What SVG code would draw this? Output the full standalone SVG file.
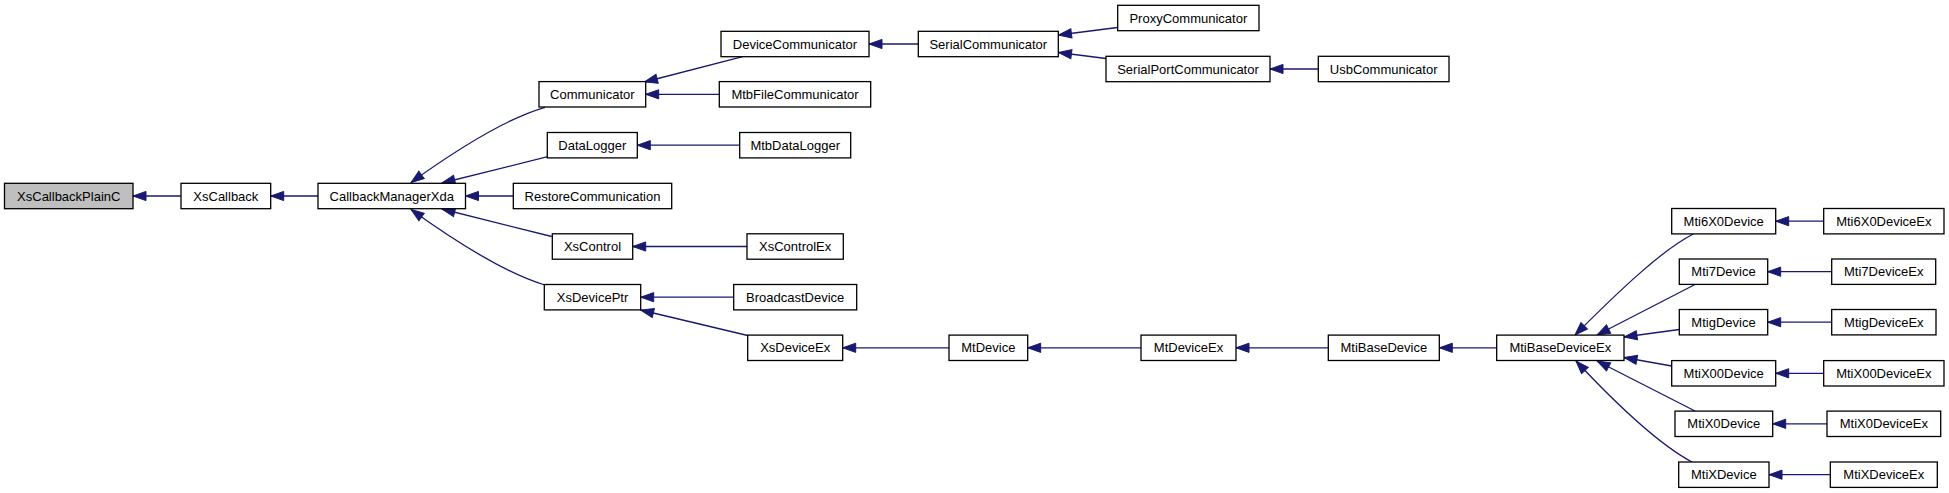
<svg xmlns="http://www.w3.org/2000/svg" width="1949" height="493" viewBox="0 0 1949 493">
<style>
.n rect{fill:#fff;stroke:#000;stroke-width:1.3}
.n.hl rect{fill:#bfbfbf}
.n text{font-family:"Liberation Sans",Arial,sans-serif;font-size:13px;text-anchor:middle;fill:#000}
.e path{fill:none;stroke:#191970;stroke-width:1.3;marker-end:url(#arr)}
</style>
<defs>
<marker id="arr" markerUnits="userSpaceOnUse" markerWidth="16" markerHeight="12" refX="13.5" refY="5" orient="auto" overflow="visible">
<path d="M0.5,0.4 L13.5,5 L0.5,9.6 z" fill="#191970" stroke="#191970" stroke-width="1"/>
</marker>
</defs>
<g id="edges" class="e">
<path d="M181,196 H133"/>
<path d="M318,196 H270.7"/>
<path d="M513.3,196 H465.5"/>
<path d="M545,107.3 C515,116 470,140 411,182.5"/>
<path d="M547.7,156.7 L442,183"/>
<path d="M551.7,236.5 L442,209"/>
<path d="M545,285 C515,276 470,252 411,209.5"/>
<path d="M742.7,56.7 L644.5,82"/>
<path d="M719.3,94.3 H645.7"/>
<path d="M739.7,145.2 H637.3"/>
<path d="M747,246.5 H632.7"/>
<path d="M733.7,297.2 H640.7"/>
<path d="M747.7,335.5 L640.7,310"/>
<path d="M918.3,44 H869"/>
<path d="M949,347.8 H842.7"/>
<path d="M1117.5,27.5 L1058.5,35"/>
<path d="M1106,58.5 L1058.5,52.5"/>
<path d="M1141,347.8 H1027.7"/>
<path d="M1318.3,69 H1270"/>
<path d="M1328.3,347.8 H1236"/>
<path d="M1496.7,347.8 H1439.3"/>
<path d="M1693.3,234 C1662,250 1620,290 1575,335"/>
<path d="M1695,284.5 L1597,335"/>
<path d="M1679.3,329.5 L1624,337"/>
<path d="M1671.7,366 L1624,357.5"/>
<path d="M1695,411 L1597,361"/>
<path d="M1692,462 C1662,446 1620,408 1576,361"/>
<path d="M1823.7,221.2 H1775.7"/>
<path d="M1831.7,271.7 H1767.7"/>
<path d="M1831.7,322.2 H1767.7"/>
<path d="M1823.7,373.3 H1775.7"/>
<path d="M1827,423.8 H1772.7"/>
<path d="M1830.3,474.7 H1769"/>
</g>
<g id="XsCallbackPlainC" class="n hl"><rect x="4.5" y="183.3" width="128.5" height="25.4"/><text x="68.75" y="200.6">XsCallbackPlainC</text></g>
<g id="XsCallback" class="n"><rect x="181" y="183.3" width="89.7" height="25.4"/><text x="225.85" y="200.6">XsCallback</text></g>
<g id="CallbackManagerXda" class="n"><rect x="318" y="183.3" width="147.5" height="25.4"/><text x="391.75" y="200.6">CallbackManagerXda</text></g>
<g id="Communicator" class="n"><rect x="539" y="81.6" width="106.7" height="25.4"/><text x="592.35" y="98.9">Communicator</text></g>
<g id="DataLogger" class="n"><rect x="547.3" y="132.5" width="90" height="25.4"/><text x="592.3" y="149.8">DataLogger</text></g>
<g id="RestoreCommunication" class="n"><rect x="513.3" y="183.3" width="158.4" height="25.4"/><text x="592.5" y="200.6">RestoreCommunication</text></g>
<g id="XsControl" class="n"><rect x="552.3" y="233.8" width="80.4" height="25.4"/><text x="592.5" y="251.1">XsControl</text></g>
<g id="XsDevicePtr" class="n"><rect x="544.3" y="284.5" width="96.4" height="25.4"/><text x="592.5" y="301.8">XsDevicePtr</text></g>
<g id="DeviceCommunicator" class="n"><rect x="721" y="31.3" width="148" height="25.4"/><text x="795" y="48.6">DeviceCommunicator</text></g>
<g id="MtbFileCommunicator" class="n"><rect x="719.3" y="81.6" width="151.4" height="25.4"/><text x="795" y="98.9">MtbFileCommunicator</text></g>
<g id="MtbDataLogger" class="n"><rect x="739.7" y="132.5" width="111" height="25.4"/><text x="795.2" y="149.8">MtbDataLogger</text></g>
<g id="XsControlEx" class="n"><rect x="747" y="233.8" width="96.3" height="25.4"/><text x="795.15" y="251.1">XsControlEx</text></g>
<g id="BroadcastDevice" class="n"><rect x="733.7" y="284.5" width="123" height="25.4"/><text x="795.2" y="301.8">BroadcastDevice</text></g>
<g id="XsDeviceEx" class="n"><rect x="747.7" y="335.1" width="95" height="25.4"/><text x="795.2" y="352.4">XsDeviceEx</text></g>
<g id="SerialCommunicator" class="n"><rect x="918.3" y="31.3" width="140" height="25.4"/><text x="988.3" y="48.6">SerialCommunicator</text></g>
<g id="MtDevice" class="n"><rect x="949" y="335.1" width="78.7" height="25.4"/><text x="988.35" y="352.4">MtDevice</text></g>
<g id="ProxyCommunicator" class="n"><rect x="1117.7" y="5.3" width="141.3" height="25.4"/><text x="1188.35" y="22.6">ProxyCommunicator</text></g>
<g id="SerialPortCommunicator" class="n"><rect x="1106" y="56.3" width="164" height="25.4"/><text x="1188" y="73.6">SerialPortCommunicator</text></g>
<g id="MtDeviceEx" class="n"><rect x="1141" y="335.1" width="95" height="25.4"/><text x="1188.5" y="352.4">MtDeviceEx</text></g>
<g id="UsbCommunicator" class="n"><rect x="1318.3" y="56.3" width="130.7" height="25.4"/><text x="1383.65" y="73.6">UsbCommunicator</text></g>
<g id="MtiBaseDevice" class="n"><rect x="1328.3" y="335.1" width="111" height="25.4"/><text x="1383.8" y="352.4">MtiBaseDevice</text></g>
<g id="MtiBaseDeviceEx" class="n"><rect x="1496.7" y="335.1" width="127.3" height="25.4"/><text x="1560.35" y="352.4">MtiBaseDeviceEx</text></g>
<g id="Mti6X0Device" class="n"><rect x="1671.7" y="208.5" width="104" height="25.4"/><text x="1723.7" y="225.8">Mti6X0Device</text></g>
<g id="Mti7Device" class="n"><rect x="1679.3" y="259" width="88.4" height="25.4"/><text x="1723.5" y="276.3">Mti7Device</text></g>
<g id="MtigDevice" class="n"><rect x="1679.3" y="309.5" width="88.4" height="25.4"/><text x="1723.5" y="326.8">MtigDevice</text></g>
<g id="MtiX00Device" class="n"><rect x="1671.7" y="360.6" width="104" height="25.4"/><text x="1723.7" y="377.9">MtiX00Device</text></g>
<g id="MtiX0Device" class="n"><rect x="1675" y="411.1" width="97.7" height="25.4"/><text x="1723.85" y="428.4">MtiX0Device</text></g>
<g id="MtiXDevice" class="n"><rect x="1678.7" y="462" width="90.3" height="25.4"/><text x="1723.85" y="479.3">MtiXDevice</text></g>
<g id="Mti6X0DeviceEx" class="n"><rect x="1823.7" y="208.5" width="120.3" height="25.4"/><text x="1883.85" y="225.8">Mti6X0DeviceEx</text></g>
<g id="Mti7DeviceEx" class="n"><rect x="1831.7" y="259" width="104" height="25.4"/><text x="1883.7" y="276.3">Mti7DeviceEx</text></g>
<g id="MtigDeviceEx" class="n"><rect x="1831.7" y="309.5" width="104.3" height="25.4"/><text x="1883.85" y="326.8">MtigDeviceEx</text></g>
<g id="MtiX00DeviceEx" class="n"><rect x="1823.7" y="360.6" width="120.3" height="25.4"/><text x="1883.85" y="377.9">MtiX00DeviceEx</text></g>
<g id="MtiX0DeviceEx" class="n"><rect x="1827" y="411.1" width="113.7" height="25.4"/><text x="1883.85" y="428.4">MtiX0DeviceEx</text></g>
<g id="MtiXDeviceEx" class="n"><rect x="1830.3" y="462" width="107" height="25.4"/><text x="1883.8" y="479.3">MtiXDeviceEx</text></g>
</svg>
